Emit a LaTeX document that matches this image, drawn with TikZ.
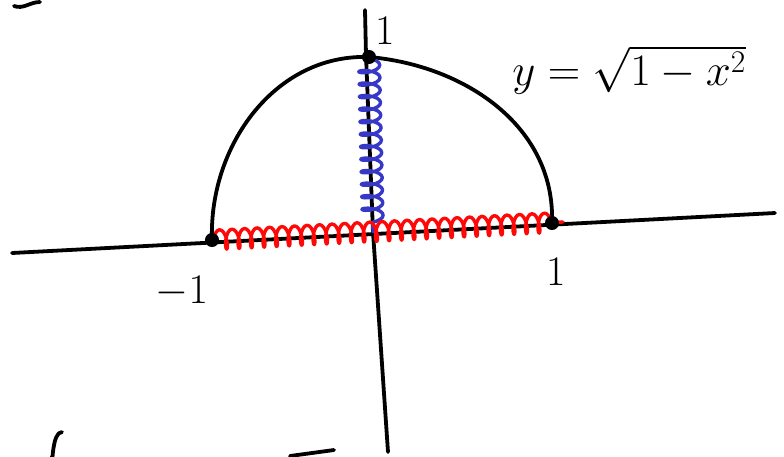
\documentclass[tikz,border=0pt]{standalone}
\usepackage{fix-cm}
\usetikzlibrary{decorations.pathmorphing}
\definecolor{coilblue}{HTML}{3838C8}
\definecolor{coilred}{HTML}{FF0808}

\begin{document}
\begin{tikzpicture}[x=0.025cm,y=-0.025cm,
  ink/.style={line width=2.7pt,line cap=round,line join=round},
  dot/.style={circle,fill=black,inner sep=0pt,minimum size=10pt},
  lbl/.style={font=\fontsize{30}{32}\selectfont,inner sep=0pt},
  spring/.style={ink,line width=2.4pt,decorate,
    decoration={coil,aspect=0.35,amplitude=#1,segment length=8.9pt,pre length=1pt,post length=1pt}}]
\useasboundingbox (0,0) rectangle (784,456);
% axes
\coordinate (xl) at (12,253);
\coordinate (xr) at (775,213);
\coordinate (yt) at (365,10);
\coordinate (yb) at (388,452);
\coordinate (o) at (373,232);
\draw[ink] (xl) -- (xr);
\draw[ink] (yt) -- (366,55) -- (o) -- (yb);
% semicircle
\coordinate (l) at (212,240);
\coordinate (t) at (369,57);
\coordinate (r) at (552,223);
\coordinate (rend) at (563,222);
\draw[ink] (l) to[out=92,in=178] (t) to[out=-5,in=88] (r);
% squiggles
\draw[spring=7.5pt,coilblue] (t) -- (o);
\draw[spring=7pt,coilred] (l) -- (rend);
% marked points
\node[dot] (ldot) at (l) {};
\node[dot] (tdot) at (t) {};
\node[dot] (rdot) at (r) {};
% labels
\node[lbl] (ytop) at (385,31) {1};
\node[lbl] (xneg) at (182,292) {$-1$};
\node[lbl] (xpos) at (556,272) {1};
\node[lbl,font=\fontsize{32}{34}\selectfont,anchor=west] (curve) at (512,70) {$y=\sqrt{1-x^2}$};
% cut-off strokes at the edges
\draw[ink] (14,6) to[out=-20,in=180] (40,2);
\draw[ink] (52,456) to[out=-85,in=180] (62,432);
\draw[ink] (290,456) -- (334,450);
\end{tikzpicture}
\end{document}
